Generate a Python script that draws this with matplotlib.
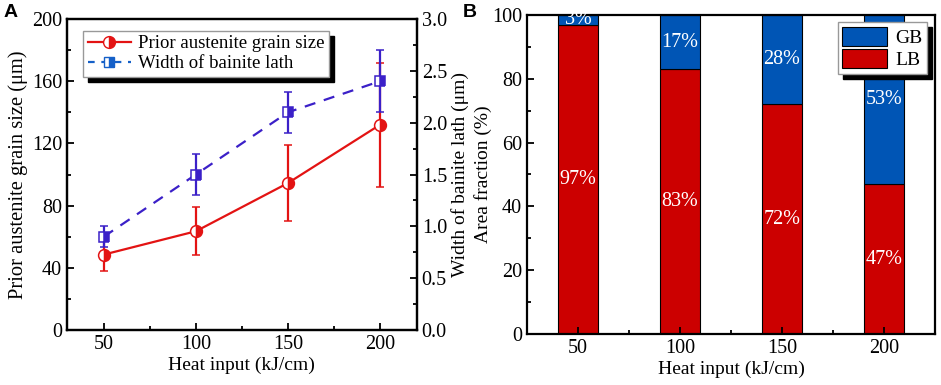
import numpy as np
import matplotlib
matplotlib.use('Agg')
import matplotlib.pyplot as plt
import matplotlib.legend as mlegend
from matplotlib.lines import Line2D
from matplotlib.patches import Patch, Shadow

plt.rcParams['font.family'] = 'Liberation Serif'
plt.rcParams['font.size'] = 14
plt.rcParams['xtick.labelsize'] = 14.5
plt.rcParams['ytick.labelsize'] = 14.5

# legend drop shadow a bit further out than matplotlib's default 2 pt
mlegend.Shadow = lambda patch, ox, oy, **kw: Shadow(patch, 3.6, -3.6, **kw)

# Panel A data
heat = [50, 100, 150, 200]
grain = [48.5, 63.5, 94.5, 132]
grain_lo = [38, 48, 70, 92]
grain_hi = [59, 79, 119, 172]
lath = [0.9, 1.5, 2.1, 2.4]
lath_lo = [0.8, 1.3, 1.9, 2.1]
lath_hi = [1.0, 1.7, 2.3, 2.7]

# Panel B data
lb = [97, 83, 72, 47]
gb = [3, 17, 28, 53]

red = '#e31313'
blue = '#3b20c8'
leg_blue = '#1560c8'
bar_red = '#cc0000'
bar_blue = '#0055b5'
shadow = {'color': 'black', 'alpha': 1}

fig = plt.figure(figsize=(9.41, 3.85), dpi=100)
ax = fig.add_axes([0.0712, 0.1429, 0.3718, 0.8077])
ax2 = ax.twinx()

g_err = [np.array(grain) - np.array(grain_lo), np.array(grain_hi) - np.array(grain)]
l_err = [np.array(lath) - np.array(lath_lo), np.array(lath_hi) - np.array(lath)]

ax.errorbar(heat, grain, yerr=g_err, color=red, lw=1.6, capsize=3, capthick=1.6,
            marker='o', ms=8.5, fillstyle='right', markerfacecolor=red,
            markerfacecoloralt='white', markeredgecolor=red, mew=1.1, zorder=3)
ax2.errorbar(heat, lath, yerr=l_err, color=blue, lw=1.6, ls='--', dashes=(5, 4),
             capsize=3, capthick=1.6, marker='s', ms=7.5, fillstyle='right',
             markerfacecolor=blue, markerfacecoloralt='white', markeredgecolor=blue,
             mew=1.1, zorder=4)

ax.set_xlim(30, 220)
ax.set_ylim(0, 200)
ax2.set_ylim(0, 3.0)
ax.set_xticks(heat)
ax.set_xticks([75, 125, 175], minor=True)
ax.set_yticks(np.arange(0, 201, 40))
ax.set_yticks(np.arange(20, 200, 40), minor=True)
ax2.set_yticks(np.arange(0, 3.01, 0.5))
ax2.set_yticks(np.arange(0.25, 3.0, 0.5), minor=True)
ax.set_xlabel('Heat input (kJ/cm)', labelpad=2, fontsize=14)
ax.set_ylabel('Prior austenite grain size (μm)', labelpad=3, fontsize=14.8)
ax2.set_ylabel('Width of bainite lath (μm)', labelpad=3, fontsize=14)
for a in (ax, ax2):
    a.tick_params(which='both', direction='in', width=1.3)
    a.tick_params(which='major', length=5)
    a.tick_params(which='minor', length=3)
    for s in a.spines.values():
        s.set_linewidth(1.6)

handles = [
    Line2D([], [], color=red, lw=1.6, marker='o', ms=8.5, fillstyle='right',
           markerfacecolor=red, markerfacecoloralt='white', markeredgecolor=red),
    Line2D([], [], color=leg_blue, lw=1.6, ls='--', dashes=(3, 3), marker='s', ms=7.5,
           fillstyle='right', markerfacecolor=leg_blue, markerfacecoloralt='white',
           markeredgecolor=leg_blue),
]
leg = ax2.legend(handles, ['Prior austenite grain size', 'Width of bainite lath'],
                 loc='upper left', bbox_to_anchor=(0.035, 0.975), fontsize=13.5,
                 frameon=True, fancybox=False, edgecolor='#999999', framealpha=1,
                 shadow=shadow, borderpad=0.25, borderaxespad=0.2,
                 handlelength=2.3, handletextpad=0.4, labelspacing=0.15)
leg.get_frame().set_linewidth(1.0)

# Panel B
bx = fig.add_axes([0.56, 0.1325, 0.4336, 0.8286])
bx.bar(heat, lb, width=20, color=bar_red, edgecolor='black', lw=0.8, label='LB')
bx.bar(heat, gb, width=20, bottom=lb, color=bar_blue, edgecolor='black', lw=0.8, label='GB')
for x, a, b in zip(heat, lb, gb):
    bx.text(x, a / 2, f'{a}%', color='white', ha='center', va='center', fontsize=14.5)
    bx.text(x, a + b / 2, f'{b}%', color='white', ha='center', va='center', fontsize=14.5)
bx.set_xlim(25, 225)
bx.set_ylim(0, 100)
bx.set_xticks(heat)
bx.set_xticks([75, 125, 175], minor=True)
bx.set_yticks(np.arange(0, 101, 20))
bx.set_yticks(np.arange(10, 100, 20), minor=True)
bx.set_xlabel('Heat input (kJ/cm)', labelpad=2, fontsize=14)
bx.set_ylabel('Area fraction (%)', labelpad=0, fontsize=14)
bx.tick_params(which='both', direction='in', width=1.3)
bx.tick_params(which='major', length=5)
bx.tick_params(which='minor', length=3)
for s in bx.spines.values():
    s.set_linewidth(1.6)
bh = [Patch(facecolor=bar_blue, edgecolor='black', lw=0.8),
      Patch(facecolor=bar_red, edgecolor='black', lw=0.8)]
leg2 = bx.legend(bh, ['GB', 'LB'], loc='upper right', bbox_to_anchor=(0.99, 0.99),
                 fontsize=14, frameon=True, fancybox=False, edgecolor='#999999',
                 framealpha=1, shadow=shadow, borderpad=0.25, borderaxespad=0.2,
                 handlelength=2.3, handleheight=1.15, handletextpad=0.4, labelspacing=0.1)
leg2.get_frame().set_linewidth(1.0)

fig.text(0.004, 0.955, 'A', fontfamily='Liberation Sans', fontweight='bold', fontsize=14)
fig.text(0.492, 0.955, 'B', fontfamily='Liberation Sans', fontweight='bold', fontsize=14)

fig.savefig('out.png', dpi=100)
